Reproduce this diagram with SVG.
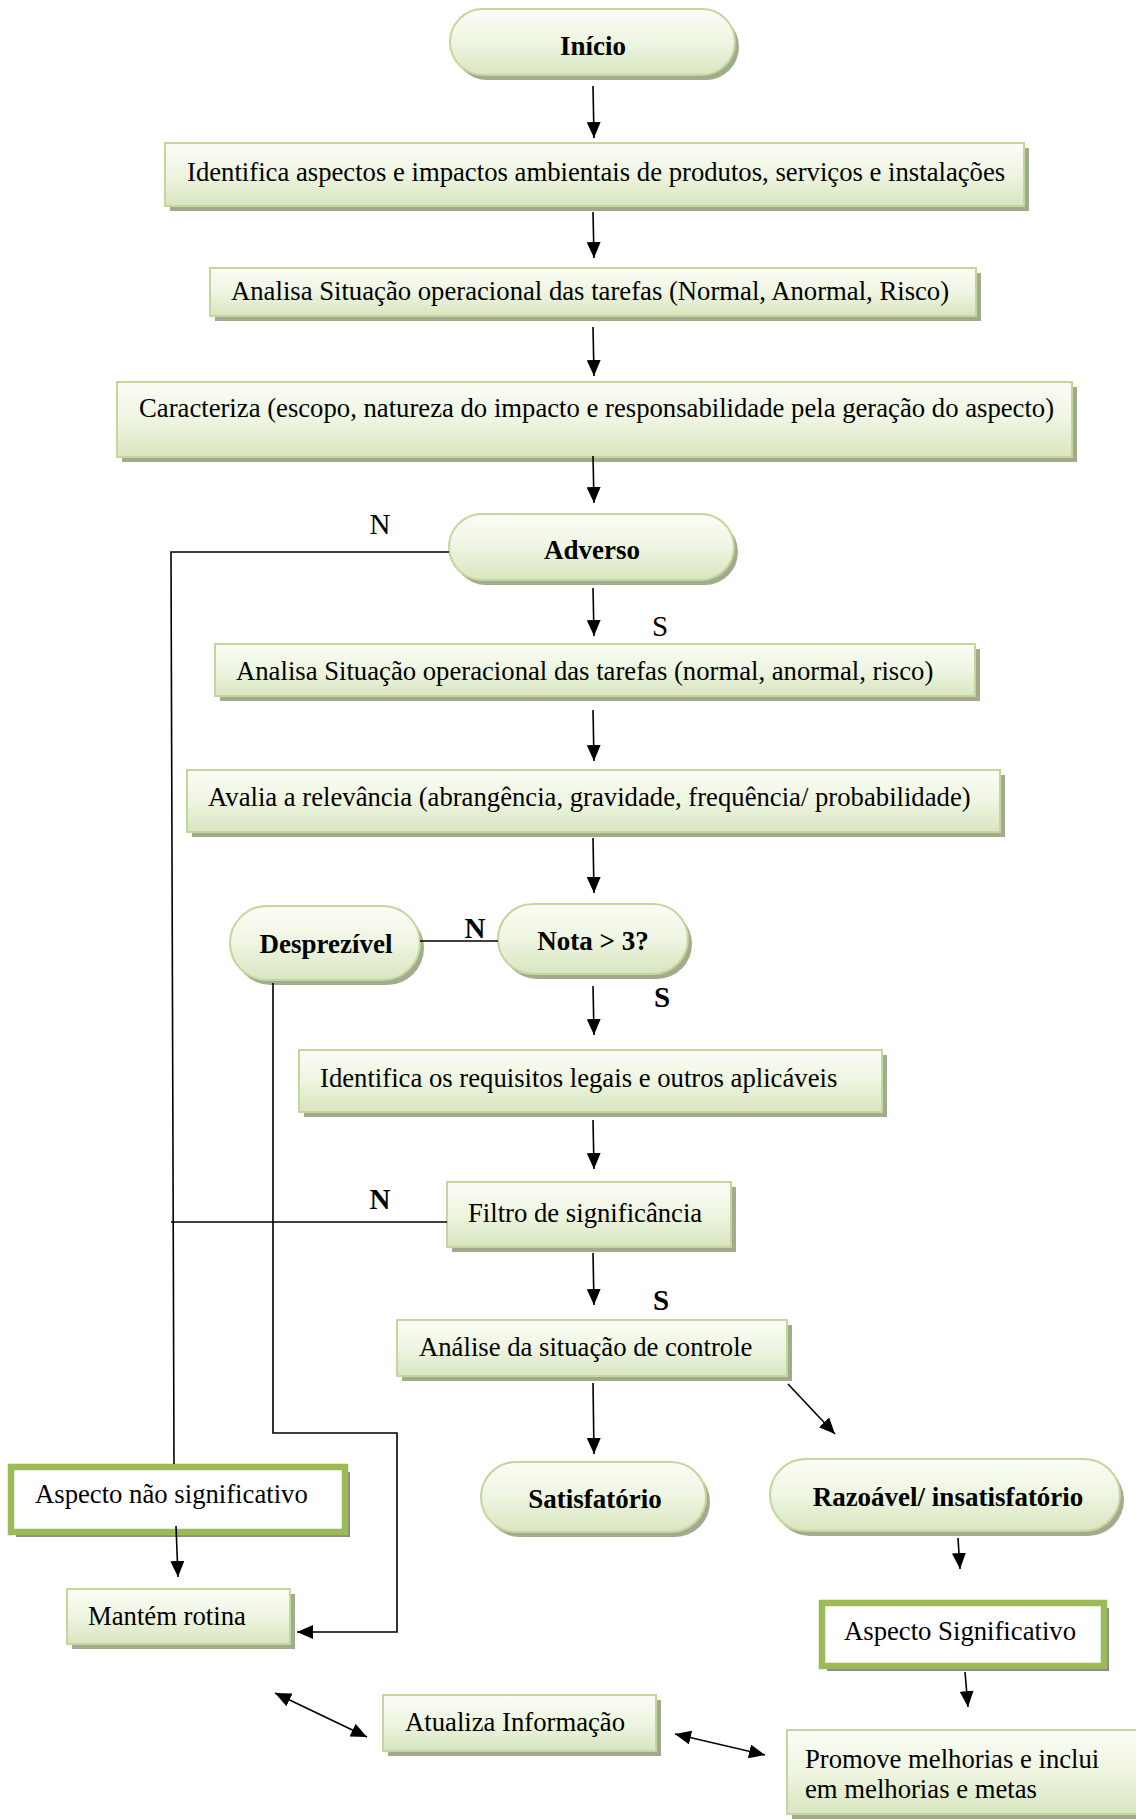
<svg xmlns="http://www.w3.org/2000/svg" width="1136" height="1820" viewBox="0 0 1136 1820">
<defs>
<linearGradient id="g" x1="0" y1="0" x2="0" y2="1">
<stop offset="0" stop-color="#fbfdf6"/>
<stop offset="0.5" stop-color="#eef5e1"/>
<stop offset="1" stop-color="#d8e5bf"/>
</linearGradient>
<marker id="ah" markerUnits="userSpaceOnUse" markerWidth="18" markerHeight="14" refX="16" refY="7" orient="auto-start-reverse">
<path d="M0,0 L16,7 L0,14 z" fill="#000"/>
</marker>
</defs>
<style>
.box{fill:url(#g);stroke:#c3d69b;stroke-width:2}
.sh{fill:#a3ab8f}
.sig{fill:#fff;stroke:#9bbb59;stroke-width:6.5}
.sigsh{fill:#8a8a8a}
.t{font-family:"Liberation Serif","Times New Roman",serif;font-size:26.7px;fill:#000}
.b{font-weight:bold;font-size:27px}
.m{text-anchor:middle}
.l{font-size:29px}
.c{stroke:#000;stroke-width:1.6;fill:none}
.a{marker-end:url(#ah)}
.d{marker-start:url(#ah);marker-end:url(#ah)}
</style>
<rect width="1136" height="1820" fill="#fff"/>

<g id="inicio">
<rect class="sh" x="454" y="14" width="285" height="66" rx="33"/>
<rect class="box" x="450" y="9" width="285" height="66" rx="33"/>
<text class="t b m" x="593" y="55">Início</text>
</g>

<g id="identifica">
<rect class="sh" x="170" y="148" width="859" height="63"/>
<rect class="box" x="165" y="143" width="859" height="63"/>
<text class="t" x="187" y="181">Identifica aspectos e impactos ambientais de produtos, serviços e instalações</text>
</g>

<g id="analisa1">
<rect class="sh" x="215" y="273" width="766" height="48"/>
<rect class="box" x="210" y="268" width="766" height="48"/>
<text class="t" x="231" y="300">Analisa Situação operacional das tarefas (Normal, Anormal, Risco)</text>
</g>

<g id="caracteriza">
<rect class="sh" x="122" y="387" width="955" height="75"/>
<rect class="box" x="117" y="382" width="955" height="75"/>
<text class="t" x="139" y="417">Caracteriza (escopo, natureza do impacto e responsabilidade pela geração do aspecto)</text>
</g>

<g id="adverso">
<rect class="sh" x="453" y="519" width="285" height="66" rx="33"/>
<rect class="box" x="449" y="514" width="285" height="66" rx="33"/>
<text class="t b m" x="592" y="559">Adverso</text>
</g>

<g id="analisa2">
<rect class="sh" x="220" y="649" width="760" height="52"/>
<rect class="box" x="215" y="644" width="760" height="52"/>
<text class="t" x="236" y="680">Analisa Situação operacional das tarefas (normal, anormal, risco)</text>
</g>

<g id="avalia">
<rect class="sh" x="192" y="775" width="813" height="62"/>
<rect class="box" x="187" y="770" width="813" height="62"/>
<text class="t" x="208" y="806">Avalia a relevância (abrangência, gravidade, frequência/ probabilidade)</text>
</g>

<g id="nota">
<rect class="sh" x="502" y="909" width="190" height="70" rx="35"/>
<rect class="box" x="498" y="904" width="190" height="70" rx="35"/>
<text class="t b m" x="593" y="950">Nota &gt; 3?</text>
</g>

<g id="desprezivel">
<rect class="sh" x="234" y="911" width="190" height="74" rx="37"/>
<rect class="box" x="230" y="906" width="190" height="74" rx="37"/>
<text class="t b m" x="326" y="953">Desprezível</text>
</g>

<g id="requisitos">
<rect class="sh" x="304" y="1055" width="583" height="62"/>
<rect class="box" x="299" y="1050" width="583" height="62"/>
<text class="t" x="320" y="1087">Identifica os requisitos legais e outros aplicáveis</text>
</g>

<g id="filtro">
<rect class="sh" x="452" y="1187" width="284" height="65"/>
<rect class="box" x="447" y="1182" width="284" height="65"/>
<text class="t" x="468" y="1222">Filtro de significância</text>
</g>

<g id="analise">
<rect class="sh" x="402" y="1325" width="390" height="56"/>
<rect class="box" x="397" y="1320" width="390" height="56"/>
<text class="t" x="419" y="1356">Análise da situação de controle</text>
</g>

<g id="satisfatorio">
<rect class="sh" x="485" y="1467" width="225" height="70" rx="35"/>
<rect class="box" x="481" y="1462" width="225" height="70" rx="35"/>
<text class="t b m" x="595" y="1508">Satisfatório</text>
</g>

<g id="razoavel">
<rect class="sh" x="774" y="1464" width="350" height="72" rx="36"/>
<rect class="box" x="770" y="1459" width="350" height="72" rx="36"/>
<text class="t b m" x="948" y="1506">Razoável/ insatisfatório</text>
</g>

<g id="aspecto_nao">
<rect class="sigsh" x="16" y="1472" width="334" height="65"/>
<rect class="sig" x="11" y="1467" width="334" height="65"/>
<text class="t" x="35" y="1503">Aspecto não significativo</text>
</g>

<g id="mantem">
<rect class="sh" x="72" y="1594" width="223" height="55"/>
<rect class="box" x="67" y="1589" width="223" height="55"/>
<text class="t" x="88" y="1625">Mantém rotina</text>
</g>

<g id="aspecto_sig">
<rect class="sigsh" x="827" y="1608" width="282" height="63"/>
<rect class="sig" x="822" y="1603" width="282" height="63"/>
<text class="t" x="844" y="1640">Aspecto Significativo</text>
</g>

<g id="atualiza">
<rect class="sh" x="388" y="1700" width="273" height="56"/>
<rect class="box" x="383" y="1695" width="273" height="56"/>
<text class="t" x="405" y="1731">Atualiza Informação</text>
</g>

<g id="promove">
<rect class="sh" x="792" y="1735" width="352" height="84"/>
<rect class="box" x="787" y="1730" width="352" height="84"/>
<text class="t" x="805" y="1768">Promove melhorias e inclui</text>
<text class="t" x="805" y="1798">em melhorias e metas</text>
</g>

<g id="connectors">
<line class="c a" x1="593" y1="86" x2="594" y2="138"/>
<line class="c a" x1="593" y1="212" x2="594" y2="258"/>
<line class="c a" x1="593" y1="327" x2="594" y2="376"/>
<line class="c a" x1="593" y1="456" x2="594" y2="503"/>
<polyline class="c" points="449,552 171,552 174,1464"/>
<line class="c a" x1="593" y1="588" x2="594" y2="636"/>
<line class="c a" x1="593" y1="710" x2="594" y2="761"/>
<line class="c a" x1="593" y1="838" x2="594" y2="893"/>
<line class="c" x1="420" y1="941" x2="498" y2="941"/>
<line class="c a" x1="593" y1="986" x2="594" y2="1035"/>
<polyline class="c a" points="273,983 273,1433 397,1433 397,1632 297,1632"/>
<line class="c a" x1="593" y1="1120" x2="594" y2="1169"/>
<line class="c" x1="447" y1="1222" x2="171" y2="1222"/>
<line class="c a" x1="593" y1="1253" x2="594" y2="1305"/>
<line class="c a" x1="593" y1="1383" x2="594" y2="1454"/>
<line class="c a" x1="788" y1="1384" x2="835" y2="1434"/>
<line class="c a" x1="176" y1="1526" x2="178" y2="1577"/>
<line class="c a" x1="958" y1="1538" x2="960" y2="1569"/>
<line class="c a" x1="965" y1="1672" x2="968" y2="1707"/>
<line class="c d" x1="275" y1="1693" x2="367" y2="1737"/>
<line class="c d" x1="675" y1="1734" x2="765" y2="1755"/>
</g>

<g id="labels">
<text class="t l m" x="380" y="534">N</text>
<text class="t l m" x="660" y="636">S</text>
<text class="t b l m" x="475" y="938">N</text>
<text class="t b l m" x="662" y="1007">S</text>
<text class="t b l m" x="380" y="1209">N</text>
<text class="t b l m" x="661" y="1310">S</text>
</g>
</svg>
